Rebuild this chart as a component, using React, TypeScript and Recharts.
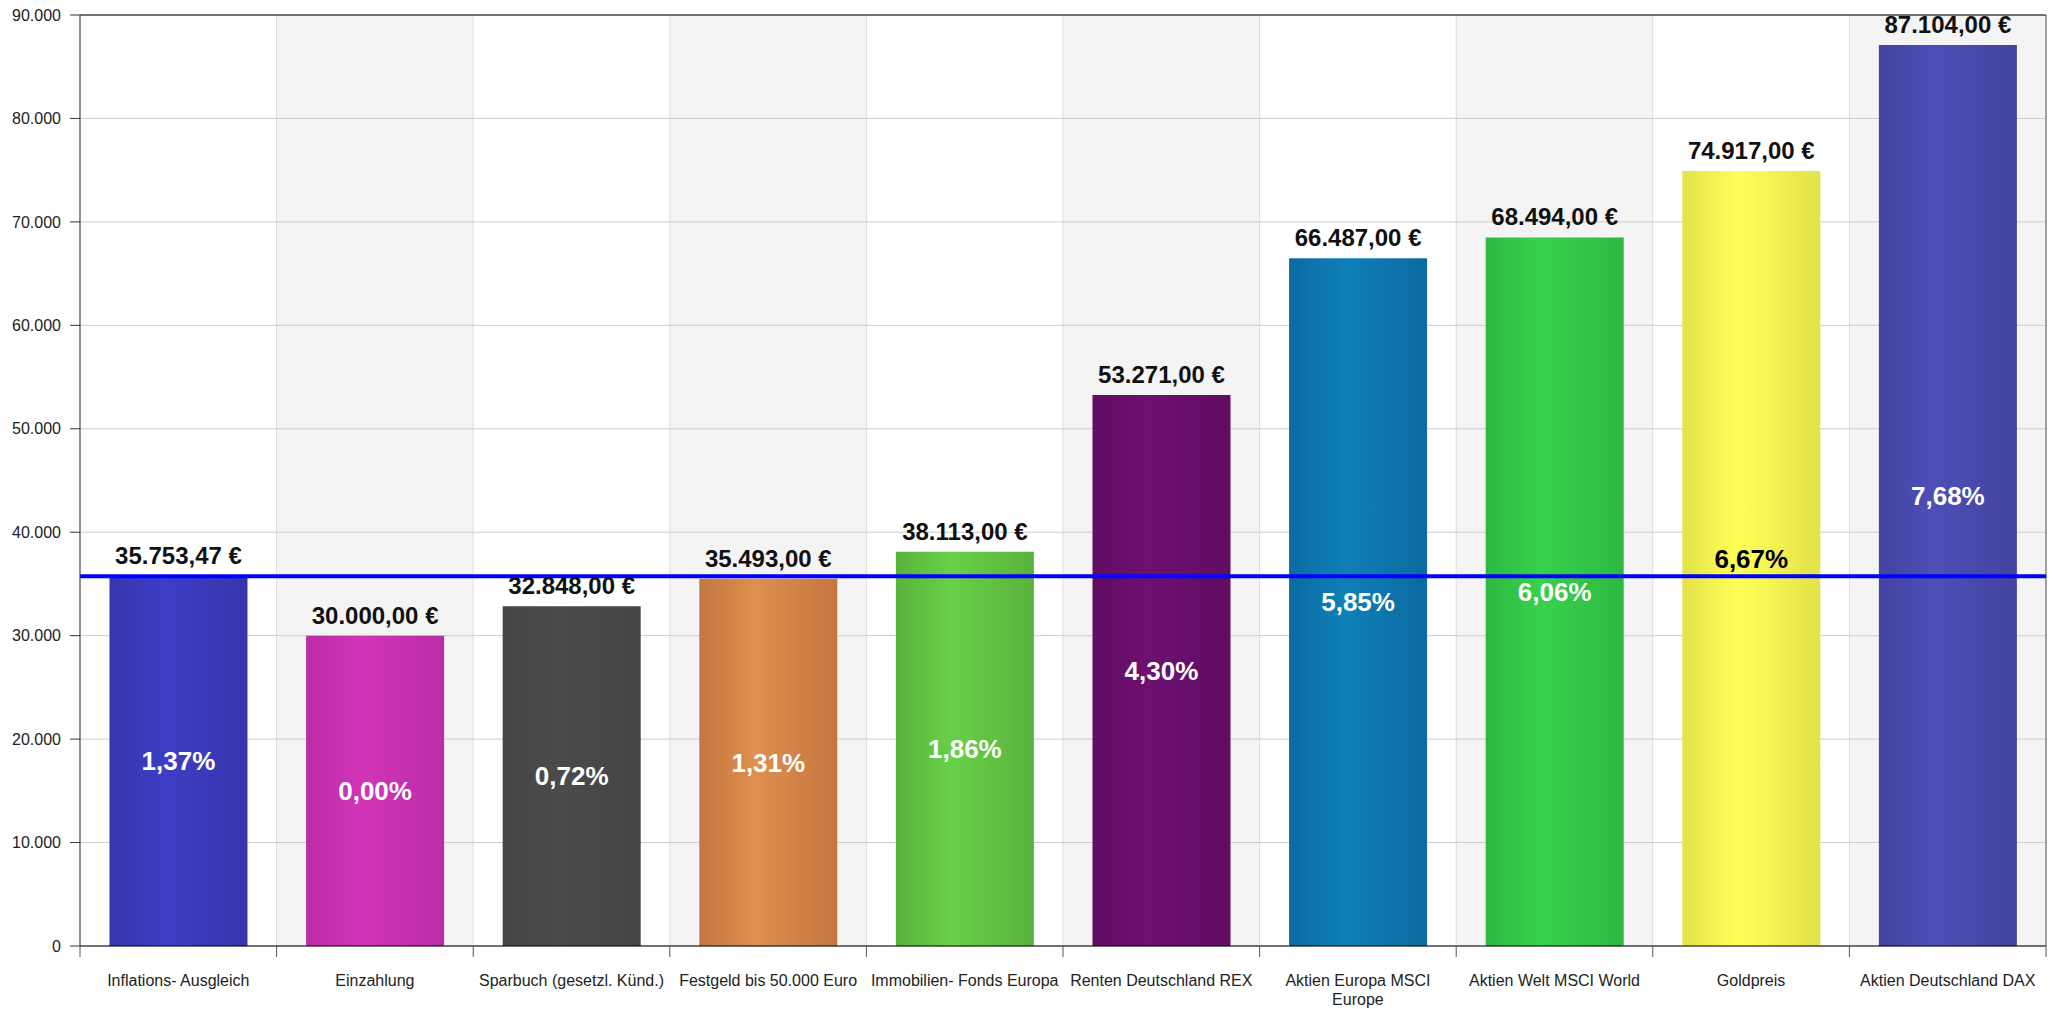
import React from "react";
import {
  BarChart,
  Bar,
  Cell,
  XAxis,
  YAxis,
  CartesianGrid,
  ReferenceLine,
  LabelList,
} from "recharts";

const categories = [
  "Inflations- Ausgleich",
  "Einzahlung",
  "Sparbuch (gesetzl. Künd.)",
  "Festgeld bis 50.000 Euro",
  "Immobilien- Fonds Europa",
  "Renten Deutschland REX",
  "Aktien Europa MSCI\nEurope",
  "Aktien Welt MSCI World",
  "Goldpreis",
  "Aktien Deutschland DAX",
];

const endValues = [
  35753.47, 30000, 32848, 35493, 38113, 53271, 66487, 68494, 74917, 87104,
];

const rates = [1.37, 0, 0.72, 1.31, 1.86, 4.3, 5.85, 6.06, 6.67, 7.68];

const inflationLevel = 35753.47;

const yTicks = [0, 10000, 20000, 30000, 40000, 50000, 60000, 70000, 80000, 90000];

// edge colour / highlight colour for each bar
const barColors = [
  ["#3535ad", "#3e3ec6"],
  ["#bb2ca5", "#d234b9"],
  ["#444444", "#4b4b4b"],
  ["#c3763f", "#df8f4e"],
  ["#59b23b", "#68d048"],
  ["#600d63", "#6e1071"],
  ["#0c6aa0", "#0f80b8"],
  ["#2db842", "#37d24c"],
  ["#e2e24a", "#ffff58"],
  ["#4343a0", "#4e4fb7"],
];
const rateLabelColors = ["#fff", "#fff", "#fff", "#fff", "#fff", "#fff", "#fff", "#fff", "#000", "#fff"];

const data = categories.map((name, i) => ({
  name,
  value: endValues[i],
  rate: rates[i],
}));

const W = 2054;
const H = 1009;
const AXIS_W = 80;
const RIGHT = 8;
const BAND = (W - AXIS_W - RIGHT) / categories.length;
const FONT = "'Liberation Sans', Arial, Helvetica, sans-serif";

const fmtThousands = (n: number) =>
  Math.round(n).toString().replace(/\B(?=(\d{3})+(?!\d))/g, ".");

const fmtEuro = (n: number) => {
  const [i, d] = n.toFixed(2).split(".");
  return `${fmtThousands(Number(i))},${d} €`;
};

const fmtRate = (n: number) => `${n.toFixed(2).replace(".", ",")}%`;

function XTick(props: any) {
  const { x, y, payload, index } = props;
  const lines = String(payload.value).split("\n");
  return (
    <g>
      <line x1={x - BAND / 2} x2={x - BAND / 2} y1={y} y2={y + 11} stroke="#555" />
      {index === categories.length - 1 && (
        <line x1={x + BAND / 2} x2={x + BAND / 2} y1={y} y2={y + 11} stroke="#555" />
      )}
      <text
        x={x}
        y={y + 40}
        textAnchor="middle"
        fontFamily={FONT}
        fontSize={16}
        fill="#222"
      >
        {lines.map((l, i) => (
          <tspan key={i} x={x} dy={i === 0 ? 0 : 19}>
            {l}
          </tspan>
        ))}
      </text>
    </g>
  );
}

const renderRate = (props: any) => {
  const { x, y, width, height, index, value } = props;
  return (
    <text
      x={x + width / 2}
      y={y + height / 2}
      dy="0.355em"
      textAnchor="middle"
      fontFamily={FONT}
      fontSize={26}
      fontWeight="bold"
      fill={rateLabelColors[index] ?? "#fff"}
    >
      {fmtRate(Number(value))}
    </text>
  );
};

export default function App() {
  return (
    <div
      style={{
        position: "fixed",
        left: 0,
        top: 0,
        width: W,
        height: H,
        background: "#fff",
        fontFamily: FONT,
      }}
    >
      <BarChart
        width={W}
        height={H}
        data={data}
        margin={{ top: 15, right: RIGHT, bottom: 0, left: 0 }}
        barCategoryGap="15%"
      >
        <defs>
          {barColors.map(([edge, peak], i) => (
            <linearGradient key={i} id={`bar-${i}`} x1="0" y1="0" x2="1" y2="0">
              <stop offset="0%" stopColor={edge} />
              <stop offset="40%" stopColor={peak} />
              <stop offset="100%" stopColor={edge} />
            </linearGradient>
          ))}
        </defs>

        <CartesianGrid
          horizontal={false}
          stroke="#dddddd"
          verticalFill={["#ffffff", "#f4f4f4"]}
          verticalCoordinatesGenerator={({ offset }: any) =>
            categories
              .map((_, i) => offset.left + i * (offset.width / categories.length))
              .concat(offset.left + offset.width)
          }
        />
        <CartesianGrid vertical={false} stroke="#cccccc" />

        <XAxis
          dataKey="name"
          height={63}
          interval={0}
          tickLine={false}
          tickSize={0}
          tickMargin={0}
          axisLine={{ stroke: "#000" }}
          tick={<XTick />}
        />

        <YAxis
          width={AXIS_W}
          domain={[0, 90000]}
          ticks={yTicks}
          interval={0}
          tickFormatter={fmtThousands}
          tickSize={10}
          tickMargin={9}
          tickLine={{ stroke: "#333" }}
          axisLine={{ stroke: "#333" }}
          tick={{ fill: "#222", fontSize: 16, fontFamily: FONT }}
        />

        <ReferenceLine y={90000} stroke="#000" />
        <ReferenceLine
          x={categories[categories.length - 1]}
          position="end"
          stroke="#555"
        />

        <Bar dataKey="value" isAnimationActive={false}>
          {data.map((_, i) => (
            <Cell key={i} fill={`url(#bar-${i})`} />
          ))}
          <LabelList
            dataKey="value"
            position="top"
            offset={12}
            formatter={(v: any) => fmtEuro(Number(v))}
            fill="#111"
            fontSize={24}
            fontWeight="bold"
            fontFamily={FONT}
          />
          <LabelList dataKey="rate" content={renderRate} />
        </Bar>

        <ReferenceLine y={inflationLevel} stroke="#0000ff" strokeWidth={4} />
      </BarChart>
    </div>
  );
}
